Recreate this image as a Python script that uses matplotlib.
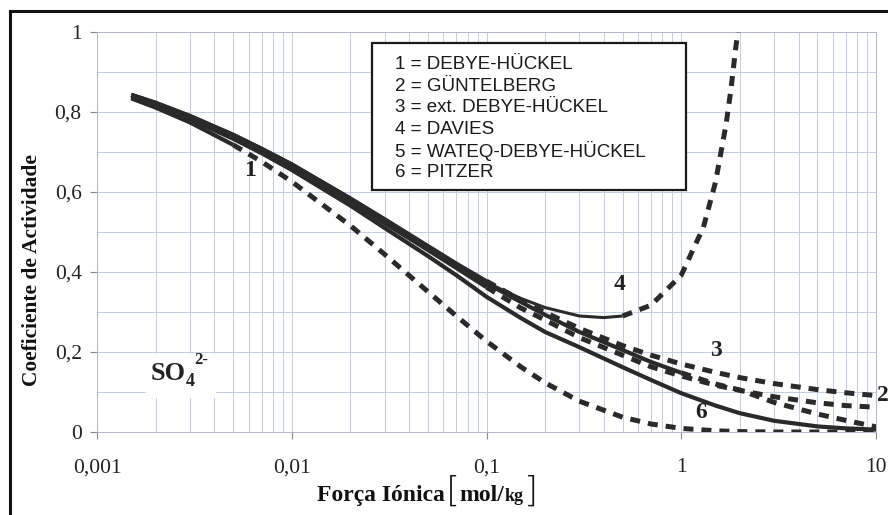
import matplotlib
matplotlib.use("Agg")
import matplotlib.pyplot as plt
from matplotlib.ticker import FixedLocator, NullFormatter, FixedFormatter
from matplotlib.lines import Line2D
from matplotlib.patches import Rectangle

# ---------------- data ----------------
ionic = [0.0015, 0.002, 0.003, 0.005, 0.007, 0.01, 0.02, 0.03, 0.05, 0.07, 0.1,
         0.15, 0.2, 0.3, 0.5, 0.7, 1, 1.5, 2, 3, 5, 7, 10]
debye_huckel = [0.834, 0.811, 0.774, 0.718, 0.676, 0.626, 0.516, 0.444, 0.351, 0.290, 0.227,
                0.163, 0.123, 0.077, 0.037, 0.020, 0.009, 0.003, 0.001, 0.0, 0.0, 0.0, 0.0]
guntelberg = [0.842, 0.821, 0.787, 0.739, 0.703, 0.663, 0.576, 0.522, 0.455, 0.410, 0.362,
              0.310, 0.280, 0.236, 0.192, 0.163, 0.140, 0.117, 0.104, 0.088, 0.073, 0.066, 0.062]
ext_debye_huckel = [0.843, 0.823, 0.790, 0.743, 0.708, 0.669, 0.584, 0.532, 0.465, 0.421, 0.377,
                    0.330, 0.299, 0.259, 0.216, 0.192, 0.170, 0.149, 0.136, 0.121, 0.106, 0.098, 0.091]
wateq = [0.843, 0.823, 0.790, 0.743, 0.708, 0.669, 0.583, 0.530, 0.463, 0.418, 0.372,
         0.325, 0.293, 0.250, 0.205, 0.175, 0.148, 0.120, 0.105, 0.074, 0.045, 0.029, 0.013]
pitzer = [0.838, 0.816, 0.782, 0.733, 0.697, 0.655, 0.566, 0.510, 0.440, 0.392, 0.338,
          0.285, 0.250, 0.212, 0.162, 0.130, 0.097, 0.066, 0.047, 0.028, 0.014, 0.009, 0.006]
davies_ionic = [0.0015, 0.002, 0.003, 0.005, 0.007, 0.01, 0.02, 0.03, 0.05, 0.07, 0.1,
                0.15, 0.2, 0.3, 0.4, 0.5, 0.7, 1, 1.3, 1.5, 1.7, 1.8, 1.9, 1.95]
davies = [0.841, 0.821, 0.787, 0.739, 0.703, 0.663, 0.576, 0.522, 0.456, 0.414, 0.374,
          0.334, 0.311, 0.290, 0.286, 0.290, 0.317, 0.392, 0.512, 0.625, 0.770, 0.857, 0.956, 1.0]

# validity limit (solid up to, dashed beyond)
series = [
    ("1", ionic, debye_huckel, 0.005),
    ("2", ionic, guntelberg, 0.1),
    ("3", ionic, ext_debye_huckel, 0.1),
    ("4", davies_ionic, davies, 0.5),
    ("5", ionic, wateq, 1.0),
    ("6", ionic, pitzer, 10.0),
]
legend_lines = ["1 = DEBYE-HÜCKEL", "2 = GÜNTELBERG", "3 = ext. DEBYE-HÜCKEL",
                "4 = DAVIES", "5 = WATEQ-DEBYE-HÜCKEL", "6 = PITZER"]
x_ticks = [0.001, 0.01, 0.1, 1, 10]
x_ticklabels = ["0,001", "0,01", "0,1", "1", "10"]
y_ticks = [0, 0.2, 0.4, 0.6, 0.8, 1.0]
y_ticklabels = ["0", "0,2", "0,4", "0,6", "0,8", "1"]

W, H = 888, 515
fig = plt.figure(figsize=(W / 100, H / 100), dpi=100)
ax = fig.add_axes([97 / W, (H - 432) / H, (876 - 97) / W, 400 / H])
ax.set_xscale('log')
ax.set_xlim(0.001, 10)
ax.set_ylim(0, 1)

# grid
minor_x = [m * 10.0 ** e for e in range(-3, 1) for m in range(2, 10)]
ax.xaxis.set_major_locator(FixedLocator(x_ticks))
ax.xaxis.set_major_formatter(FixedFormatter(x_ticklabels))
ax.xaxis.set_minor_locator(FixedLocator(minor_x))
ax.xaxis.set_minor_formatter(NullFormatter())
ax.yaxis.set_major_locator(FixedLocator(y_ticks))
ax.yaxis.set_major_formatter(FixedFormatter(y_ticklabels))
ax.yaxis.set_minor_locator(FixedLocator([0.1, 0.3, 0.5, 0.7, 0.9]))
ax.grid(True, which='both', color='#c2cde3', linewidth=0.7)
ax.set_axisbelow(True)
for s in ax.spines.values():
    s.set_color('#b0b8c8')
    s.set_linewidth(0.7)
ax.tick_params(which='major', direction='out', length=5, color='#888888', width=0.8,
               labelsize=15.5, pad=6)
ax.tick_params(axis='x', which='major', pad=14)
ax.tick_params(which='minor', length=0)
for lab in ax.get_xticklabels() + ax.get_yticklabels():
    lab.set_fontfamily('Liberation Serif')
    lab.set_color('#222222')

col = '#2a2a2a'
for name, xs, ys, lim in series:
    sx = [x for x in xs if x <= lim]
    sy = [y for x, y in zip(xs, ys) if x <= lim]
    dx = [x for x in xs if x >= lim]
    dy = [y for x, y in zip(xs, ys) if x >= lim]
    lw = 2.2 if name == "4" else 3.0
    ax.plot(sx, sy, color=col, lw=lw, solid_capstyle='butt', zorder=3)
    if len(dx) > 1:
        ax.plot(dx, dy, color=col, lw=3.6, dashes=(2.0, 1.6), solid_capstyle='butt',
                dash_capstyle='butt', zorder=3, clip_on=True)

# curve labels
lab_kw = dict(fontfamily='Liberation Serif', fontweight='bold', fontsize=17, color='#222222',
              ha='center', va='center', zorder=6)
ax.text(0.0061, 0.655, "1", **lab_kw)
ax.text(0.48, 0.37, "4", **lab_kw)
ax.text(1.51, 0.205, "3", **lab_kw)
ax.text(1.27, 0.05, "6", **lab_kw)
ax.text(10.9, 0.092, "2", clip_on=False, **lab_kw)

# SO4 2- label with white patch
fig.add_artist(Rectangle((146 / W, 1 - 398 / H), 70 / W, 44 / H, transform=fig.transFigure,
                         facecolor='white', edgecolor='none', zorder=4))
so_kw = dict(fontfamily='Liberation Serif', fontweight='bold', color='#222222', zorder=6)
fig.text(151 / W, 1 - 380 / H, "SO", fontsize=19, ha='left', va='baseline', **so_kw)
fig.text(186 / W, 1 - 386 / H, "4", fontsize=13, ha='left', va='baseline', **so_kw)
fig.text(194 / W, 1 - 364 / H, "2-", fontsize=12, ha='left', va='baseline', **so_kw)

# legend box
fig.add_artist(Rectangle((372 / W, 1 - 190 / H), (686 - 372) / W, (190 - 43) / H,
                         transform=fig.transFigure, facecolor='white', edgecolor='#1a1a1a',
                         linewidth=1.6, zorder=5))
for i, t in enumerate(legend_lines):
    fig.text(395 / W, 1 - (65 + 21.5 * i) / H, t, fontfamily='Liberation Sans', fontsize=13.5,
             color='#1a1a1a', va='center', ha='left', zorder=6)

# axis labels
fig.text(32 / W, 1 - 270 / H, "Coeficiente de Actividade", rotation=90, fontfamily='Liberation Serif',
         fontweight='bold', fontsize=15.4, color='#111111', ha='center', va='center')
base = 1 - 501 / H
fig.text(445 / W, base, "Força Iónica", fontfamily='Liberation Serif', fontweight='bold',
         fontsize=17, color='#111111', ha='right', va='baseline')
fig.text(446 / W, 1 - 492 / H, "[", fontfamily='DejaVu Sans', fontweight='light',
         fontsize=26, color='#111111', ha='left', va='center')
fig.text(459 / W, base, "mol/", fontfamily='Liberation Serif', fontweight='bold',
         fontsize=17, color='#111111', ha='left', va='baseline')
fig.text(505 / W, base, "kg", fontfamily='Liberation Serif', fontweight='bold',
         fontsize=13, color='#111111', ha='left', va='baseline')
fig.text(524 / W, 1 - 492 / H, "]", fontfamily='DejaVu Sans', fontweight='light',
         fontsize=26, color='#111111', ha='left', va='center')

# outer frame (top and left)
fig.add_artist(Line2D([10 / W, 10 / W], [0, 1 - 11 / H], transform=fig.transFigure,
                      color='#111111', lw=2.2))
fig.add_artist(Line2D([10 / W, 1], [1 - 11 / H, 1 - 11 / H], transform=fig.transFigure,
                      color='#111111', lw=2.2))

fig.savefig("out.png", dpi=100)
